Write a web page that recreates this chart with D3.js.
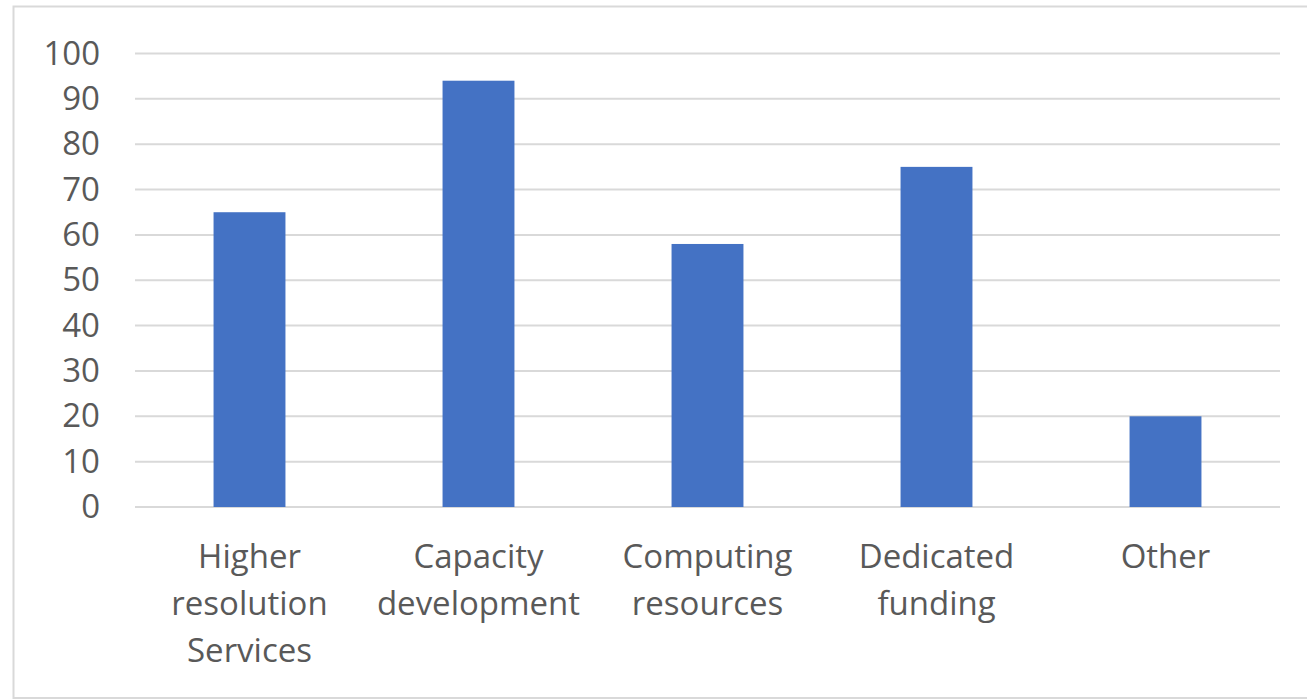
<!DOCTYPE html>
<html>
<head>
<meta charset="utf-8">
<script src="https://cdn.jsdelivr.net/npm/d3@7"></script>
<style>
  body { margin: 0; background: #fff; }
  #chart { width: 1307px; height: 700px; }
  .tick-label { font-family: "Open Sans", Lato, sans-serif; fill: #595959; }
</style>
</head>
<body>
<div id="chart"></div>
<script>
// chart data
let categories = [
    ["Higher", "resolution", "Services"],
    ["Capacity", "development"],
    ["Computing", "resources"],
    ["Dedicated", "funding"],
    ["Other"]
];
let values = [65, 94, 58, 75, 20];
let yTicks = [0, 10, 20, 30, 40, 50, 60, 70, 80, 90, 100];

let W = 1307, H = 700;
let margin = {top: 53.5, left: 135, right: 27, bottom: 193};
let width = W - margin.left - margin.right;
let height = H - margin.top - margin.bottom;
let fontSize = 33;

let svg = d3.select("#chart").append("svg")
    .attr("width", W)
    .attr("height", H);

// outer frame
svg.append("rect")
    .attr("x", 13.5).attr("y", 6.5)
    .attr("width", W).attr("height", 691.5)
    .attr("fill", "none")
    .attr("stroke", "#d9d9d9")
    .attr("stroke-width", 2);

let g = svg.append("g")
    .attr("transform", `translate(${margin.left}, ${margin.top})`);

let x = d3.scaleBand()
    .domain(d3.range(values.length))
    .range([0, width])
    .paddingInner(0.686)
    .paddingOuter(0.343);

let y = d3.scaleLinear()
    .domain([0, 100])
    .range([height, 0]);

// gridlines
g.append("g")
    .selectAll("line")
    .data(yTicks)
    .enter().append("line")
    .attr("x1", 0).attr("x2", width)
    .attr("y1", d => y(d)).attr("y2", d => y(d))
    .attr("stroke", "#d9d9d9")
    .attr("stroke-width", 2);

// y axis labels
let yAxis = d3.axisLeft(y).tickValues(yTicks).tickSize(0).tickPadding(35);
let yG = g.append("g").call(yAxis);
yG.select(".domain").remove();
yG.selectAll("text")
    .attr("class", "tick-label")
    .style("font-size", fontSize + "px");

// bars
g.append("g")
    .selectAll("rect")
    .data(values)
    .enter().append("rect")
    .attr("x", (d, i) => x(i))
    .attr("y", d => y(d))
    .attr("width", x.bandwidth())
    .attr("height", d => height - y(d))
    .attr("fill", "#4472c4");

// category labels
let xc = d3.scaleBand().domain(d3.range(values.length)).range([0, width]);
let labels = g.append("g")
    .selectAll("text")
    .data(categories)
    .enter().append("text")
    .attr("class", "tick-label")
    .attr("text-anchor", "middle")
    .style("font-size", fontSize + "px")
    .attr("transform", (d, i) => `translate(${xc(i) + xc.bandwidth() / 2}, ${height + 61})`);

labels.selectAll("tspan")
    .data(d => d)
    .enter().append("tspan")
    .attr("x", 0)
    .attr("y", (d, i) => i * 47)
    .text(d => d);
</script>
</body>
</html>
